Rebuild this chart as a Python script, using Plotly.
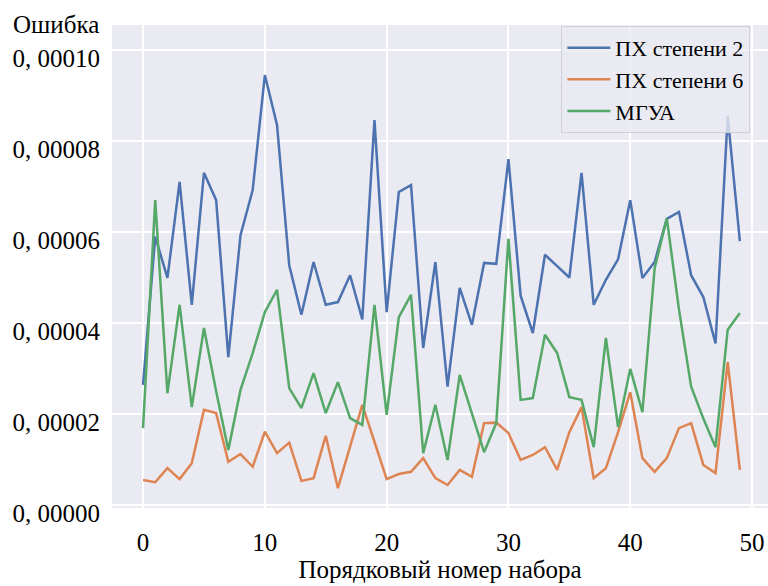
import plotly.graph_objects as go

idx = list(range(50))
blue = [2.64, 5.9, 4.99, 7.1, 4.4, 7.3, 6.7, 3.25, 5.93, 6.92,
        9.45, 8.35, 5.27, 4.18, 5.34, 4.4, 4.46, 5.05, 4.08, 8.46,
        4.24, 6.88, 7.03, 3.45, 5.34, 2.6, 4.77, 3.96, 5.32, 5.3,
        7.6, 4.6, 3.78, 5.5, 5.25, 5.0, 7.3, 4.4, 4.95, 5.4,
        6.7, 4.99, 5.34, 6.29, 6.44, 5.05, 4.57, 3.55, 8.55, 5.8]
orange = [0.55, 0.5, 0.81, 0.57, 0.92, 2.09, 2.02, 0.95, 1.12, 0.84,
          1.61, 1.14, 1.37, 0.53, 0.59, 1.52, 0.37, 1.3, 2.2, 1.39,
          0.57, 0.68, 0.73, 1.03, 0.59, 0.44, 0.77, 0.62, 1.8, 1.81,
          1.58, 0.99, 1.1, 1.27, 0.77, 1.6, 2.15, 0.59, 0.81, 1.6,
          2.48, 1.03, 0.73, 1.03, 1.69, 1.8, 0.88, 0.7, 3.14, 0.77]
green = [1.69, 6.7, 2.46, 4.4, 2.15, 3.89, 2.5, 1.21, 2.53, 3.34,
         4.24, 4.73, 2.57, 2.13, 2.9, 2.02, 2.7, 1.91, 1.76, 4.4,
         1.98, 4.13, 4.62, 1.14, 2.2, 0.99, 2.86, 2.02, 1.16, 1.8,
         5.85, 2.31, 2.35, 3.74, 3.34, 2.37, 2.31, 1.27, 3.67, 1.71,
         2.99, 2.04, 5.2, 6.3, 4.3, 2.6, 1.9, 1.27, 3.85, 4.22]
scale = 1e-5
names = ["ПХ степени 2", "ПХ степени 6", "МГУА"]
colors = ["#4C72B0", "#DD8452", "#55A868"]

y_tickvals = [0, 2e-5, 4e-5, 6e-5, 8e-5, 1e-4]
y_ticktext = ["0, 00000", "0, 00002", "0, 00004", "0, 00006", "0, 00008", "0, 00010"]
x_tickvals = [0, 10, 20, 30, 40, 50]
x_ticktext = ["0", "10", "20", "30", "40", "50"]

FONT = "'Liberation Serif', 'Times New Roman', serif"

fig = go.Figure()
for vals, name, col in zip([blue, orange, green], names, colors):
    fig.add_trace(go.Scatter(x=idx, y=[v * scale for v in vals], mode="lines",
                             name=name, line=dict(color=col, width=2.5)))

fig.update_layout(
    width=768, height=586,
    margin=dict(l=112, r=0, t=25, b=78),
    paper_bgcolor="white", plot_bgcolor="#EAEAF2",
    font=dict(family=FONT, size=25, color="black"),
    showlegend=True,
    legend=dict(x=0.685, y=0.998, xanchor="left", yanchor="top",
                bgcolor="rgba(234,234,242,0.8)", bordercolor="#D0D0D6", borderwidth=1,
                font=dict(family=FONT, size=22, color="black"),
                itemwidth=43, tracegroupgap=0),
    xaxis=dict(range=[-2.55, 51.31], tickvals=x_tickvals, ticktext=x_ticktext,
               showgrid=True, gridcolor="white", gridwidth=2, zeroline=False,
               showline=False, ticks="", ticklabelstandoff=17,
               title=dict(text="Порядковый номер набора", standoff=4,
                          font=dict(family=FONT, size=25))),
    yaxis=dict(range=[-0.066e-5, 10.549e-5], tickvals=y_tickvals, ticktext=y_ticktext,
               showgrid=True, gridcolor="white", gridwidth=2, zeroline=False,
               showline=False, ticks="", ticklabelstandoff=11, ticklabelshift=8),
)
fig.add_annotation(text="Ошибка", xref="paper", yref="paper", x=-0.154, y=1.002,
                   xanchor="left", yanchor="middle", showarrow=False,
                   font=dict(family=FONT, size=25, color="black"))

fig.write_html("out.html")
